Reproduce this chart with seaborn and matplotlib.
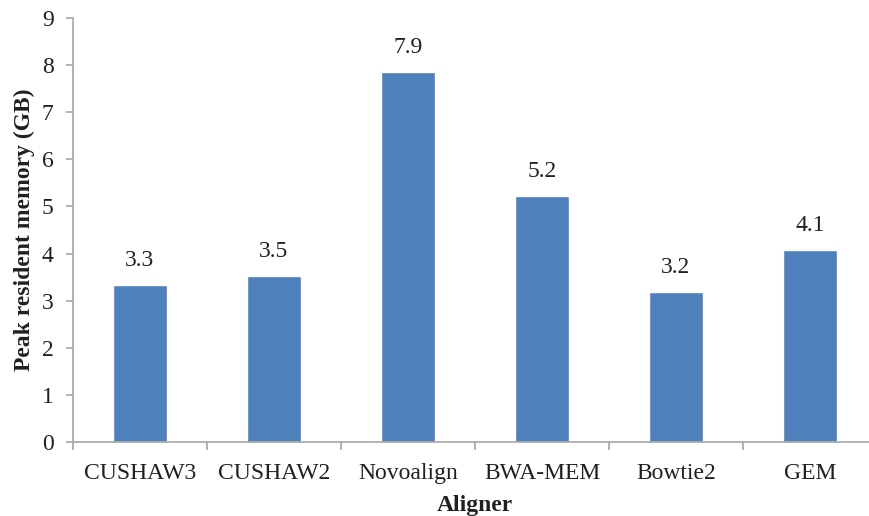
import matplotlib
matplotlib.use("Agg")
import matplotlib.pyplot as plt
import numpy as np
import pandas as pd
import seaborn as sns
from matplotlib.ticker import FixedLocator

aligners = ["CUSHAW3", "CUSHAW2", "Novoalign", "BWA-MEM", "Bowtie2", "GEM"]
memory_gb = [3.33, 3.52, 7.86, 5.22, 3.19, 4.08]

sns.set_style("white")
plt.rcParams["font.family"] = ["Liberation Serif", "DejaVu Serif"]

df = pd.DataFrame({"Aligner": aligners, "memory": memory_gb})

fig = plt.figure(figsize=(8.69, 5.16), dpi=100)
# ось X уходит за правый край картинки, как в оригинале
ax = fig.add_axes([73 / 869, 1 - 441.7 / 516, 804 / 869, 423.4 / 516])

sns.barplot(data=df, x="Aligner", y="memory", color="#4f81bd", width=0.4,
            saturation=1, ax=ax)

ax.set_ylim(0, 9)
ax.set_xlim(-0.5, 5.5)
ax.set_yticks(range(0, 10))

axis_gray = "#a6a6a6"
text_col = "#231f20"
fs = 17
for side in ["top", "right"]:
    ax.spines[side].set_visible(False)
for side in ["left", "bottom"]:
    ax.spines[side].set_color(axis_gray)
    ax.spines[side].set_linewidth(1.2)

ax.tick_params(axis="y", direction="out", length=5, width=1.2, color=axis_gray,
               labelsize=fs, labelcolor=text_col, pad=9, left=True)
ax.tick_params(axis="x", which="major", length=0, labelsize=fs,
               labelcolor=text_col, pad=15)
ax.xaxis.set_minor_locator(FixedLocator(np.arange(-0.5, 6, 1.0)))
ax.tick_params(axis="x", which="minor", direction="out", length=6, width=1.2,
               color=axis_gray, bottom=True)

ax.bar_label(ax.containers[0], fmt="%.1f", padding=10, fontsize=fs,
             color=text_col)

ax.set_xlabel("Aligner", fontsize=fs, fontweight="bold", color=text_col)
ax.set_ylabel("Peak resident memory (GB)", fontsize=fs, fontweight="bold",
              color=text_col)
ax.xaxis.set_label_coords((475 - 73) / 804, -0.127)
ax.yaxis.set_label_coords(-38 / 804, 0.5)

fig.savefig("out.png", dpi=100)
